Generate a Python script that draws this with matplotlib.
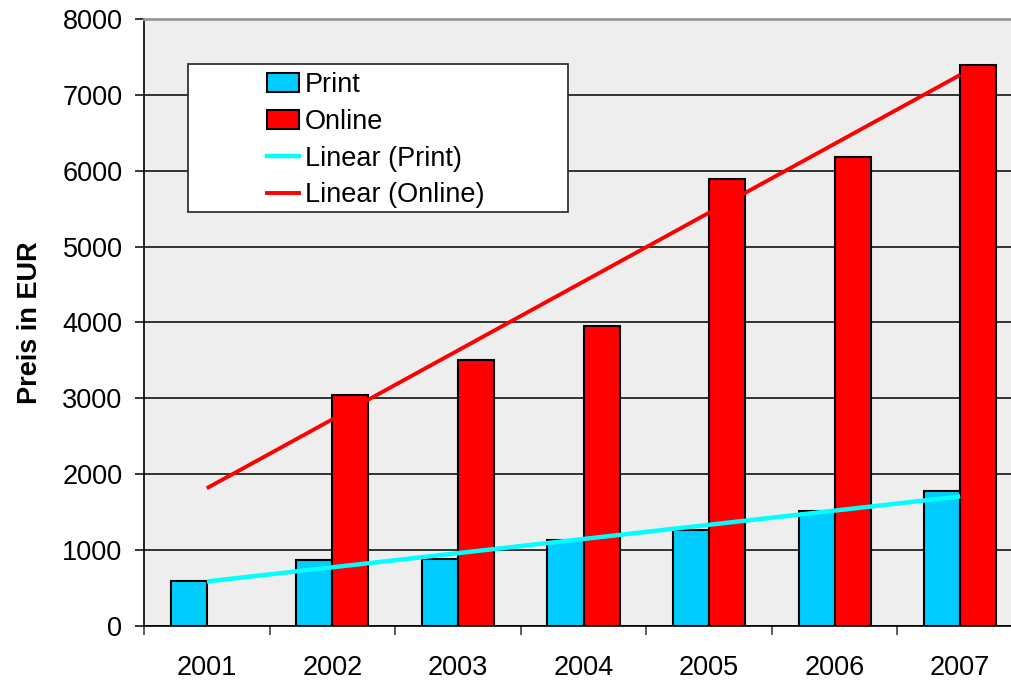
import numpy as np
import matplotlib
matplotlib.use('Agg')
import matplotlib.pyplot as plt
import matplotlib.patches as patches
from matplotlib.lines import Line2D

plt.rcParams['font.family'] = ['Liberation Sans', 'DejaVu Sans']

years = ['2001', '2002', '2003', '2004', '2005', '2006', '2007']
print_vals = [590, 870, 880, 1140, 1260, 1510, 1780]
online_vals = [np.nan, 3040, 3500, 3950, 5890, 6180, 7400]
y_ticks = [0, 1000, 2000, 3000, 4000, 5000, 6000, 7000, 8000]

fig = plt.figure(figsize=(10.12, 6.8), dpi=100)
W, H = 1012, 680
ax = fig.add_axes([144 / W, 1 - 626 / H, (1023 - 144) / W, (626 - 19) / H])
ax.set_facecolor('#EEEEEE')

x = np.arange(len(years))
bw = 0.287
ax.bar(x - bw / 2, print_vals, bw, color='#00CCFF', edgecolor='black', linewidth=1.5, zorder=3)
ax.bar(x + bw / 2, online_vals, bw, color='#FF0000', edgecolor='black', linewidth=1.5, zorder=3)

# linear trend lines (Excel style, over the points that exist)
p = np.polyfit(x, print_vals, 1)
ax.plot(x, np.polyval(p, x), color='#00FFFF', linewidth=3.2, zorder=4, solid_capstyle='butt')
ov = np.array(online_vals)
ok = ~np.isnan(ov)
q = np.polyfit(x[ok] + 1, ov[ok], 1)
ax.plot(x, np.polyval(q, x + 1), color='#FF0000', linewidth=2.8, zorder=4, solid_capstyle='butt')

ax.set_xlim(-0.5, len(years) - 0.5)
ax.set_ylim(0, 8000)
ax.set_yticks(y_ticks)
ax.yaxis.grid(True, color='black', linewidth=1.1, zorder=1)
ax.set_axisbelow(True)

ax.set_xticks(np.arange(-0.5, len(years), 1.0))
ax.set_xticklabels([])
ax.set_xticks(x, minor=True)
ax.set_xticklabels(years, minor=True)
ax.tick_params(axis='x', which='major', direction='out', length=6.5, width=1.1, color='#333333')
ax.tick_params(axis='x', which='minor', length=0, labelsize=19.5, pad=21)
ax.tick_params(axis='y', direction='out', length=6.5, width=1.1, labelsize=19.5, pad=9)

for s in ['left', 'bottom']:
    ax.spines[s].set_color('black')
    ax.spines[s].set_linewidth(1.2)
ax.spines['top'].set_color('#999999')
ax.spines['top'].set_linewidth(2)
ax.spines['right'].set_visible(False)

ax.set_ylabel('Preis in EUR', fontsize=19.5, fontweight='bold')
ax.yaxis.set_label_coords((43 - 144) / (1023 - 144), 0.5)

# legend box
box = patches.Rectangle((188 / W, 1 - 212 / H), 380 / W, 148 / H, transform=fig.transFigure,
                        facecolor='white', edgecolor='#333333', linewidth=1.3, zorder=5, clip_on=False)
ax.add_patch(box)
handles = [patches.Patch(facecolor='#00CCFF', edgecolor='black', linewidth=1.5),
           patches.Patch(facecolor='#FF0000', edgecolor='black', linewidth=1.5),
           Line2D([], [], color='#00FFFF', linewidth=3.2),
           Line2D([], [], color='#FF0000', linewidth=2.8)]
labels = ['Print', 'Online', 'Linear (Print)', 'Linear (Online)']
leg = ax.legend(handles, labels, loc='upper left', bbox_to_anchor=(267 / W, 1 - 72 / H),
                bbox_transform=fig.transFigure, frameon=False, fontsize=19.5, borderpad=0,
                borderaxespad=0, handlelength=1.2, handletextpad=0.2, labelspacing=0.4)
leg.set_zorder(6)

fig.savefig('out.png', dpi=100)
